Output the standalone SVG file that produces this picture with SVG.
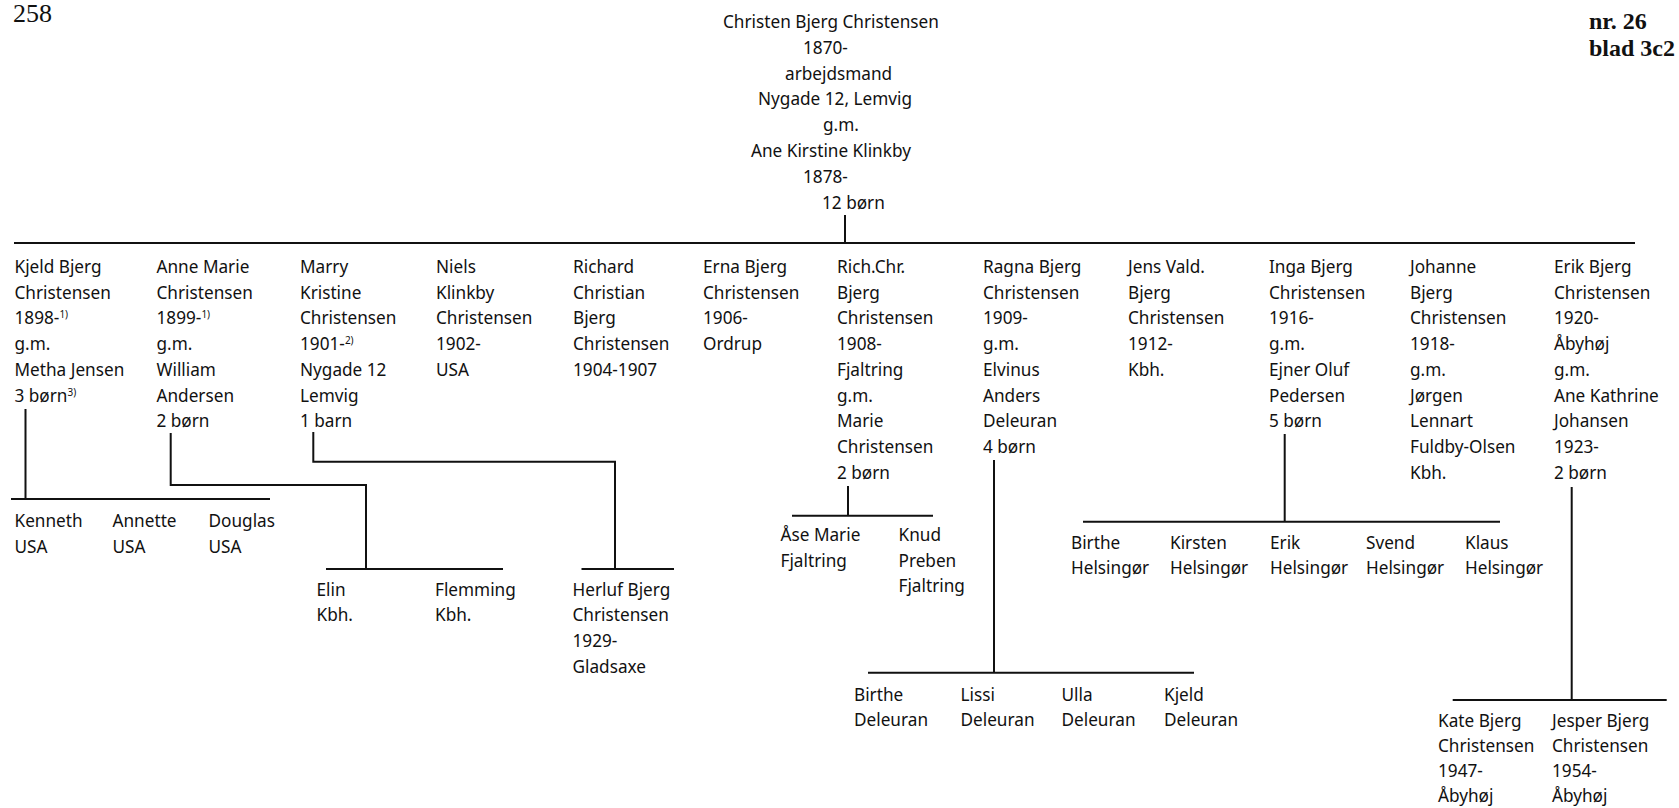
<svg xmlns="http://www.w3.org/2000/svg" width="1679" height="808" viewBox="0 0 1679 808">
<style>
.t{font-family:"Noto Sans","DejaVu Sans",sans-serif;font-size:17.2px;fill:#111}
.s{font-size:10px}
.h{font-family:"Liberation Serif","Times New Roman",serif;font-size:26px;fill:#111}
.hb{font-family:"Liberation Serif","Times New Roman",serif;font-size:24px;font-weight:bold;fill:#111}
.c{stroke:#111;stroke-width:2;fill:none}
</style>
<rect width="1679" height="808" fill="#fff"/>
<g id="page-no"><text class="h" x="13" y="22">258</text></g>
<g id="sheet"><text class="hb" x="1589" y="29">nr. 26</text><text class="hb" x="1589" y="56">blad 3c2</text></g>

<g id="root">
<text class="t"><tspan x="723" y="28">Christen Bjerg Christensen</tspan><tspan x="803" y="53.8">1870-</tspan><tspan x="785" y="79.6">arbejdsmand</tspan><tspan x="758" y="105.4">Nygade 12, Lemvig</tspan><tspan x="823" y="131.2">g.m.</tspan><tspan x="751" y="157">Ane Kirstine Klinkby</tspan><tspan x="803" y="182.8">1878-</tspan><tspan x="822" y="208.6">12 børn</tspan></text>
</g>

<g id="connectors">
<path class="c" d="M845 215V243M14 243H1635"/>
<path class="c" d="M25.5 409V499M11 499H270"/>
<path class="c" d="M170.7 433V485H366V569M326 569H503"/>
<path class="c" d="M313.3 432V461.7H615V569M581.5 569H674"/>
<path class="c" d="M848 486V515.7M792 515.7H933"/>
<path class="c" d="M994 460V672.7M868 672.7H1194"/>
<path class="c" d="M1284.7 434V521.8M1083 521.8H1500"/>
<path class="c" d="M1571.7 487V700M1452.7 700H1666.7"/>
</g>

<g id="kjeld"><text class="t"><tspan x="14.5" y="273">Kjeld Bjerg</tspan><tspan x="14.5" y="298.7">Christensen</tspan><tspan x="14.5" y="324.4">1898-<tspan class="s" dy="-6">1)</tspan></tspan><tspan x="14.5" y="350.1">g.m.</tspan><tspan x="14.5" y="375.8">Metha Jensen</tspan><tspan x="14.5" y="401.5">3 børn<tspan class="s" dy="-6">3)</tspan></tspan></text></g>
<g id="anne"><text class="t"><tspan x="156.5" y="273">Anne Marie</tspan><tspan x="156.5" y="298.7">Christensen</tspan><tspan x="156.5" y="324.4">1899-<tspan class="s" dy="-6">1)</tspan></tspan><tspan x="156.5" y="350.1">g.m.</tspan><tspan x="156.5" y="375.8">William</tspan><tspan x="156.5" y="401.5">Andersen</tspan><tspan x="156.5" y="427.2">2 børn</tspan></text></g>
<g id="marry"><text class="t"><tspan x="300" y="273">Marry</tspan><tspan x="300" y="298.7">Kristine</tspan><tspan x="300" y="324.4">Christensen</tspan><tspan x="300" y="350.1">1901-<tspan class="s" dy="-6">2)</tspan></tspan><tspan x="300" y="375.8">Nygade 12</tspan><tspan x="300" y="401.5">Lemvig</tspan><tspan x="300" y="427.2">1 barn</tspan></text></g>
<g id="niels"><text class="t"><tspan x="436" y="273">Niels</tspan><tspan x="436" y="298.7">Klinkby</tspan><tspan x="436" y="324.4">Christensen</tspan><tspan x="436" y="350.1">1902-</tspan><tspan x="436" y="375.8">USA</tspan></text></g>
<g id="richard"><text class="t"><tspan x="573" y="273">Richard</tspan><tspan x="573" y="298.7">Christian</tspan><tspan x="573" y="324.4">Bjerg</tspan><tspan x="573" y="350.1">Christensen</tspan><tspan x="573" y="375.8">1904-1907</tspan></text></g>
<g id="erna"><text class="t"><tspan x="703" y="273">Erna Bjerg</tspan><tspan x="703" y="298.7">Christensen</tspan><tspan x="703" y="324.4">1906-</tspan><tspan x="703" y="350.1">Ordrup</tspan></text></g>
<g id="richchr"><text class="t"><tspan x="837" y="273">Rich.Chr.</tspan><tspan x="837" y="298.7">Bjerg</tspan><tspan x="837" y="324.4">Christensen</tspan><tspan x="837" y="350.1">1908-</tspan><tspan x="837" y="375.8">Fjaltring</tspan><tspan x="837" y="401.5">g.m.</tspan><tspan x="837" y="427.2">Marie</tspan><tspan x="837" y="452.9">Christensen</tspan><tspan x="837" y="478.6">2 børn</tspan></text></g>
<g id="ragna"><text class="t"><tspan x="983" y="273">Ragna Bjerg</tspan><tspan x="983" y="298.7">Christensen</tspan><tspan x="983" y="324.4">1909-</tspan><tspan x="983" y="350.1">g.m.</tspan><tspan x="983" y="375.8">Elvinus</tspan><tspan x="983" y="401.5">Anders</tspan><tspan x="983" y="427.2">Deleuran</tspan><tspan x="983" y="452.9">4 børn</tspan></text></g>
<g id="jens"><text class="t"><tspan x="1128" y="273">Jens Vald.</tspan><tspan x="1128" y="298.7">Bjerg</tspan><tspan x="1128" y="324.4">Christensen</tspan><tspan x="1128" y="350.1">1912-</tspan><tspan x="1128" y="375.8">Kbh.</tspan></text></g>
<g id="inga"><text class="t"><tspan x="1269" y="273">Inga Bjerg</tspan><tspan x="1269" y="298.7">Christensen</tspan><tspan x="1269" y="324.4">1916-</tspan><tspan x="1269" y="350.1">g.m.</tspan><tspan x="1269" y="375.8">Ejner Oluf</tspan><tspan x="1269" y="401.5">Pedersen</tspan><tspan x="1269" y="427.2">5 børn</tspan></text></g>
<g id="johanne"><text class="t"><tspan x="1410" y="273">Johanne</tspan><tspan x="1410" y="298.7">Bjerg</tspan><tspan x="1410" y="324.4">Christensen</tspan><tspan x="1410" y="350.1">1918-</tspan><tspan x="1410" y="375.8">g.m.</tspan><tspan x="1410" y="401.5">Jørgen</tspan><tspan x="1410" y="427.2">Lennart</tspan><tspan x="1410" y="452.9">Fuldby-Olsen</tspan><tspan x="1410" y="478.6">Kbh.</tspan></text></g>
<g id="erik"><text class="t"><tspan x="1554" y="273">Erik Bjerg</tspan><tspan x="1554" y="298.7">Christensen</tspan><tspan x="1554" y="324.4">1920-</tspan><tspan x="1554" y="350.1">Åbyhøj</tspan><tspan x="1554" y="375.8">g.m.</tspan><tspan x="1554" y="401.5">Ane Kathrine</tspan><tspan x="1554" y="427.2">Johansen</tspan><tspan x="1554" y="452.9">1923-</tspan><tspan x="1554" y="478.6">2 børn</tspan></text></g>

<g id="kenneth"><text class="t"><tspan x="14.5" y="527">Kenneth</tspan><tspan x="14.5" y="552.7">USA</tspan></text></g>
<g id="annette"><text class="t"><tspan x="112.5" y="527">Annette</tspan><tspan x="112.5" y="552.7">USA</tspan></text></g>
<g id="douglas"><text class="t"><tspan x="208.5" y="527">Douglas</tspan><tspan x="208.5" y="552.7">USA</tspan></text></g>

<g id="elin"><text class="t"><tspan x="316.5" y="595.5">Elin</tspan><tspan x="316.5" y="621.2">Kbh.</tspan></text></g>
<g id="flemming"><text class="t"><tspan x="435" y="595.5">Flemming</tspan><tspan x="435" y="621.2">Kbh.</tspan></text></g>
<g id="herluf"><text class="t"><tspan x="572.5" y="595.5">Herluf Bjerg</tspan><tspan x="572.5" y="621.2">Christensen</tspan><tspan x="572.5" y="646.9">1929-</tspan><tspan x="572.5" y="672.6">Gladsaxe</tspan></text></g>

<g id="aase"><text class="t"><tspan x="780.5" y="541">Åse Marie</tspan><tspan x="780.5" y="566.7">Fjaltring</tspan></text></g>
<g id="knud"><text class="t"><tspan x="898.5" y="541">Knud</tspan><tspan x="898.5" y="566.7">Preben</tspan><tspan x="898.5" y="592.4">Fjaltring</tspan></text></g>

<g id="birthe-h"><text class="t"><tspan x="1071" y="548.5">Birthe</tspan><tspan x="1071" y="574.2">Helsingør</tspan></text></g>
<g id="kirsten"><text class="t"><tspan x="1170" y="548.5">Kirsten</tspan><tspan x="1170" y="574.2">Helsingør</tspan></text></g>
<g id="erik-h"><text class="t"><tspan x="1270" y="548.5">Erik</tspan><tspan x="1270" y="574.2">Helsingør</tspan></text></g>
<g id="svend"><text class="t"><tspan x="1366" y="548.5">Svend</tspan><tspan x="1366" y="574.2">Helsingør</tspan></text></g>
<g id="klaus"><text class="t"><tspan x="1465" y="548.5">Klaus</tspan><tspan x="1465" y="574.2">Helsingør</tspan></text></g>

<g id="birthe-d"><text class="t"><tspan x="854" y="700.5">Birthe</tspan><tspan x="854" y="726">Deleuran</tspan></text></g>
<g id="lissi"><text class="t"><tspan x="960.5" y="700.5">Lissi</tspan><tspan x="960.5" y="726">Deleuran</tspan></text></g>
<g id="ulla"><text class="t"><tspan x="1061.5" y="700.5">Ulla</tspan><tspan x="1061.5" y="726">Deleuran</tspan></text></g>
<g id="kjeld-d"><text class="t"><tspan x="1164" y="700.5">Kjeld</tspan><tspan x="1164" y="726">Deleuran</tspan></text></g>

<g id="kate"><text class="t"><tspan x="1438" y="727">Kate Bjerg</tspan><tspan x="1438" y="752">Christensen</tspan><tspan x="1438" y="777">1947-</tspan><tspan x="1438" y="802">Åbyhøj</tspan></text></g>
<g id="jesper"><text class="t"><tspan x="1552" y="727">Jesper Bjerg</tspan><tspan x="1552" y="752">Christensen</tspan><tspan x="1552" y="777">1954-</tspan><tspan x="1552" y="802">Åbyhøj</tspan></text></g>
</svg>
